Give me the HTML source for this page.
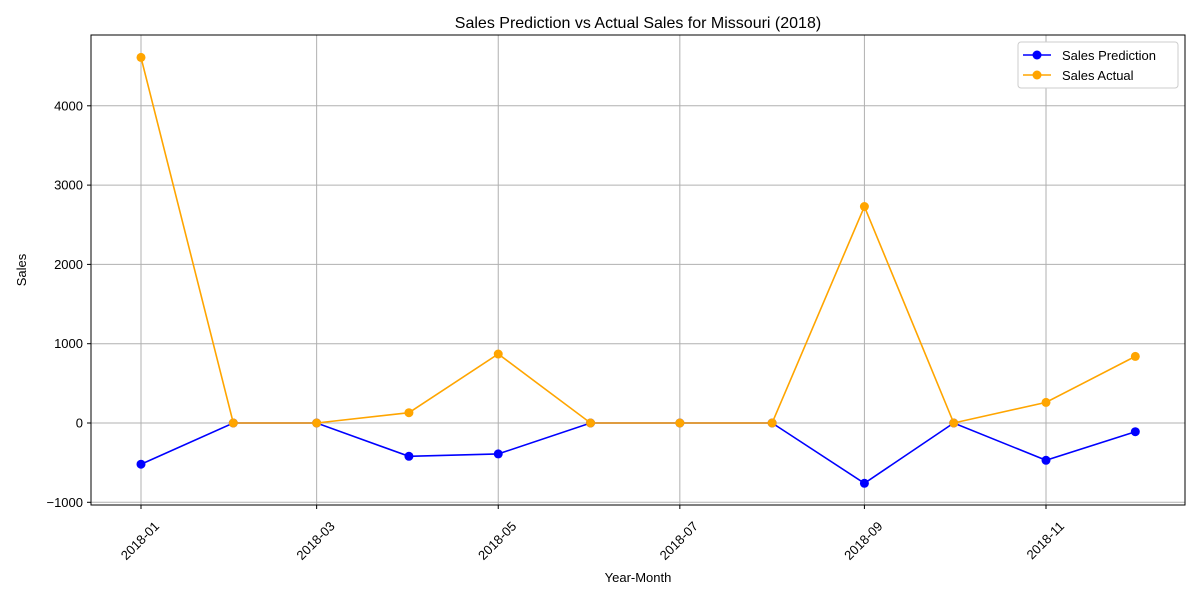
<!DOCTYPE html>
<html><head><meta charset="utf-8"><style>
body{margin:0;background:#fff;font-family:"Liberation Sans","DejaVu Sans",sans-serif;}
svg text{font-family:"Liberation Sans","DejaVu Sans",sans-serif;}
</style></head><body>
<svg id="chart" width="1200" height="600" xmlns="http://www.w3.org/2000/svg">
<rect width="1200" height="600" fill="#fff"/>
<text x="638" y="28" font-size="16" text-anchor="middle">Sales Prediction vs Actual Sales for Missouri (2018)</text>
<text x="638" y="582" font-size="13" text-anchor="middle">Year-Month</text>
<text x="26" y="270" font-size="13" text-anchor="middle" transform="rotate(-90 26 270)">Sales</text>
<g id="grid"></g><g id="ticks"></g><g id="series"></g>
<rect x="91" y="35" width="1094" height="470" fill="none" stroke="#000" stroke-width="1"/>
<g>
<rect x="1018" y="42" width="160" height="46" fill="#fff" stroke="#ccc" rx="3"/>
<g>
<line x1="1023" y1="55" x2="1051" y2="55" stroke="blue" stroke-width="1.5"/><circle cx="1037" cy="55" r="4.5" fill="blue"/>
<text x="1062" y="60" font-size="13">Sales Prediction</text></g>
<g>
<line x1="1023" y1="75" x2="1051" y2="75" stroke="orange" stroke-width="1.5"/><circle cx="1037" cy="75" r="4.5" fill="orange"/>
<text x="1062" y="80" font-size="13">Sales Actual</text></g>
</g>
</svg>
<script>
const months=["2018-01","2018-02","2018-03","2018-04","2018-05","2018-06","2018-07","2018-08","2018-09","2018-10","2018-11","2018-12"];
const prediction=[-520,0,0,-420,-390,0,0,0,-760,0,-470,-110];
const actual=[4610,0,0,130,870,0,0,0,2730,0,260,840];
const yTicks=[-1000,0,1000,2000,3000,4000];
const xTickLabels=["2018-01","2018-03","2018-05","2018-07","2018-09","2018-11"];
const NS="http://www.w3.org/2000/svg";
function days(m){const d=new Date(m+"-01T00:00:00Z");return (d-new Date("2018-01-01T00:00:00Z"))/864e5;}
function xs(m){return 141+days(m)*2.977;}
function ys(v){return 423-v*0.0793;}
function mk(t,a,p){const e=document.createElementNS(NS,t);for(const k in a)e.setAttribute(k,a[k]);p.appendChild(e);return e;}
const grid=document.getElementById('grid'),ticks=document.getElementById('ticks'),ser=document.getElementById('series');
yTicks.forEach(v=>{const y=ys(v);
const g=mk('line',{x1:91,x2:1185,y1:y,y2:y,stroke:'#b0b0b0','stroke-width':1},grid);


mk('line',{x1:87,x2:91,y1:y,y2:y,stroke:'#000'},ticks);
const t=mk('text',{x:83,y:y+4.5,'font-size':13,'text-anchor':'end'},ticks);t.textContent=v<0?'\u2212'+Math.abs(v):v;

});
xTickLabels.forEach(m=>{const x=xs(m);
const g=mk('line',{x1:x,x2:x,y1:35,y2:505,stroke:'#b0b0b0','stroke-width':1},grid);


mk('line',{x1:x,x2:x,y1:505,y2:509,stroke:'#000'},ticks);
const ax=x+19,ay=527;
const t=mk('text',{x:ax,y:ay,'font-size':13,'text-anchor':'end',transform:`rotate(-45 ${ax} ${ay})`},ticks);t.textContent=m;

});
function draw(vals,color,name){
const pts=months.map((m,i)=>xs(m)+','+ys(vals[i])).join(' ');
const l=mk('polyline',{points:pts,fill:'none',stroke:color,'stroke-width':1.6},ser);


months.forEach((m,i)=>{const c=mk('circle',{cx:xs(m),cy:ys(vals[i]),r:4.5,fill:color},ser);

});}
draw(prediction,'blue','prediction');
draw(actual,'orange','actual');
</script>
</body></html>
